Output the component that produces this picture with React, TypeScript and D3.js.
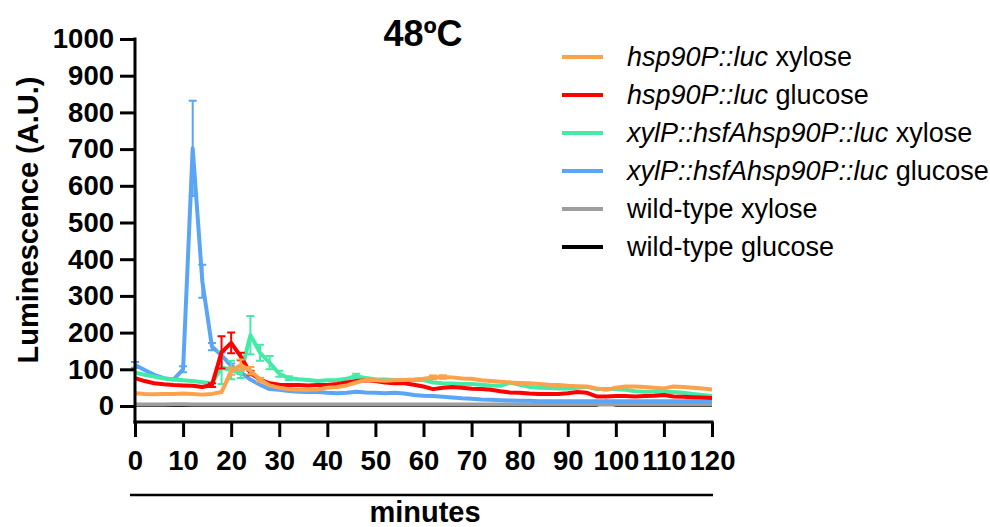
import React, { useEffect, useRef } from 'react';
import * as d3 from 'd3';

// time points (minutes), every 2 min
const minutes = [
  0, 2, 4, 6, 8, 10, 12, 14, 16, 18, 20, 22, 24, 26, 28, 30, 32, 34, 36, 38,
  40, 42, 44, 46, 48, 50, 52, 54, 56, 58, 60, 62, 64, 66, 68, 70, 72, 74, 76, 78,
  80, 82, 84, 86, 88, 90, 92, 94, 96, 98, 100, 102, 104, 106, 108, 110, 112, 114, 116, 118, 120,
];

const hspXylose = [
  35, 33, 32, 33, 33, 34, 33, 31, 33, 38, 95, 112, 96, 72, 56, 50, 46, 44, 44, 45,
  50, 52, 56, 64, 71, 70, 69, 70, 71, 72, 74, 78, 79, 78, 75, 74, 70, 68, 66, 64,
  63, 62, 60, 58, 57, 55, 54, 53, 48, 44, 50, 53, 53, 52, 50, 48, 53, 52, 50, 48, 45,
];
const hspXyloseErr = [
  3, 3, 3, 3, 3, 3, 3, 3, 3, 4, 10, 15, 10, 5, 3, 3, 3, 3, 3, 3,
  3, 3, 3, 4, 4, 3, 3, 3, 3, 3, 4, 5, 5, 4, 3, 3, 3, 3, 3, 3,
  3, 3, 3, 3, 3, 3, 3, 3, 3, 3, 3, 3, 3, 3, 3, 3, 3, 3, 3, 3, 3,
];

const hspGlucose = [
  76, 68, 62, 59, 57, 56, 55, 52, 57, 146, 172, 135, 90, 72, 62, 58, 57, 57, 56, 57,
  57, 60, 64, 68, 70, 68, 64, 62, 62, 58, 53, 46, 50, 52, 50, 47, 46, 44, 40, 37,
  36, 34, 33, 33, 33, 35, 38, 36, 26, 26, 27, 27, 26, 27, 28, 30, 26, 25, 24, 23, 22,
];
const hspGlucoseErr = [
  3, 3, 3, 3, 3, 3, 3, 3, 5, 44, 28, 10, 6, 4, 3, 3, 3, 3, 3, 3,
  3, 3, 3, 3, 3, 3, 3, 3, 3, 3, 3, 3, 3, 3, 3, 3, 3, 3, 3, 3,
  3, 3, 3, 3, 3, 3, 3, 3, 3, 3, 3, 3, 3, 3, 3, 3, 3, 3, 3, 3, 3,
];

const hsfXylose = [
  91, 85, 80, 75, 72, 70, 68, 65, 62, 105, 98, 88, 193, 145, 118, 88, 76, 73, 71, 68,
  70, 71, 74, 82, 76, 73, 72, 71, 70, 71, 71, 64, 62, 61, 60, 60, 58, 56, 55, 64,
  58, 52, 50, 49, 48, 48, 50, 52, 46, 46, 46, 44, 40, 39, 39, 39, 38, 36, 33, 30, 27,
];
const hsfXyloseErr = [
  4, 3, 3, 3, 3, 3, 3, 3, 3, 45, 25, 12, 52, 22, 18, 8, 5, 4, 3, 3,
  3, 3, 4, 6, 4, 3, 3, 3, 3, 3, 3, 3, 3, 3, 3, 3, 3, 3, 3, 4,
  3, 3, 3, 3, 3, 3, 3, 3, 3, 3, 3, 3, 3, 3, 3, 3, 3, 3, 3, 3, 3,
];

const hsfGlucose = [
  112, 98, 85, 76, 72, 100, 702, 340, 162, 138, 110, 92, 72, 58, 46, 44, 41, 39, 38, 38,
  36, 35, 36, 39, 37, 36, 35, 36, 34, 30, 28, 27, 25, 23, 21, 20, 18, 17, 16, 15,
  14, 14, 13, 13, 13, 13, 13, 13, 13, 13, 13, 13, 13, 13, 13, 13, 13, 13, 13, 13, 13,
];
const hsfGlucoseErr = [
  8, 4, 3, 3, 3, 8, 130, 45, 10, 8, 6, 5, 4, 3, 3, 3, 3, 3, 3, 3,
  3, 3, 3, 3, 3, 3, 3, 3, 3, 3, 3, 3, 3, 3, 3, 3, 3, 3, 3, 3,
  3, 3, 3, 3, 3, 3, 3, 3, 3, 3, 3, 3, 3, 3, 3, 3, 3, 3, 3, 3, 3,
];

const wtXylose = [
  4, 4, 4, 4, 5, 5, 4, 4, 4, 4, 4, 4, 4, 4, 4, 4, 4, 4, 4, 4,
  4, 4, 4, 4, 4, 4, 4, 4, 4, 4, 4, 4, 4, 4, 4, 4, 4, 4, 4, 4,
  4, 4, 4, 4, 4, 4, 4, 4, 4, 4, 4, 4, 4, 4, 4, 4, 4, 4, 4, 4, 4,
];
const wtGlucose = [
  3, 3, 3, 3, 3, 3, 3, 3, 3, 3, 3, 3, 3, 3, 3, 3, 3, 3, 3, 3,
  3, 3, 3, 3, 3, 3, 3, 3, 3, 3, 3, 3, 3, 3, 3, 3, 3, 3, 3, 3,
  3, 3, 3, 3, 3, 3, 3, 3, 3, 12, 3, 3, 3, 3, 3, 3, 3, 3, 3, 3, 3,
];

const yTicks = [0, 100, 200, 300, 400, 500, 600, 700, 800, 900, 1000];
const xTicks = [0, 10, 20, 30, 40, 50, 60, 70, 80, 90, 100, 110, 120];

const series = [
  { name: ['', 'wild-type glucose'], color: '#000000', values: wtGlucose, err: null },
  { name: ['', 'wild-type xylose'], color: '#9e9e9e', values: wtXylose, err: null },
  { name: ['xylP::hsfAhsp90P::luc', ' glucose'], color: '#5aa5f5', values: hsfGlucose, err: hsfGlucoseErr },
  { name: ['xylP::hsfAhsp90P::luc', ' xylose'], color: '#44eba7', values: hsfXylose, err: hsfXyloseErr },
  { name: ['hsp90P::luc', ' glucose'], color: '#ff0000', values: hspGlucose, err: hspGlucoseErr },
  { name: ['hsp90P::luc', ' xylose'], color: '#ffa04a', values: hspXylose, err: hspXyloseErr },
];

const App = () => {
  const svgRef = useRef<SVGSVGElement>(null);

  useEffect(() => {
    const width = 990;
    const height = 527;
    const font = '"Liberation Sans", Arial, sans-serif';

    const svg = d3.select(svgRef.current);
    svg.selectAll('*').remove();
    svg.attr('width', width).attr('height', height).style('font-family', font);

    const x = d3.scaleLinear().domain([0, 120]).range([135, 712]);
    const y = d3.scaleLinear().domain([0, 1000]).range([406, 39]);
    const axisY = 422;

    // series: error bars then lines
    const line = d3.line<number>()
      .x((_, i) => x(minutes[i]))
      .y(d => y(d));

    series.forEach(s => {
      const g = svg.append('g');
      if (s.err) {
        const err = s.err;
        s.values.forEach((v, i) => {
          const e = err[i];
          if (e < 5) return;
          const cx = x(minutes[i]);
          g.append('path')
            .attr('d', `M${cx},${y(v - e)}V${y(v + e)}M${cx - 4},${y(v + e)}H${cx + 4}M${cx - 4},${y(v - e)}H${cx + 4}`)
            .attr('stroke', s.color)
            .attr('stroke-width', 2)
            .attr('fill', 'none');
        });
      }
      g.append('path')
        .datum(s.values)
        .attr('d', line)
        .attr('fill', 'none')
        .attr('stroke', s.color)
        .attr('stroke-width', 4)
        .attr('stroke-linejoin', 'round');
    });

    // y axis
    const yAxis = svg.append('g').attr('transform', 'translate(135,0)');
    yAxis.call(d3.axisLeft(y).tickValues(yTicks).tickSize(15).tickPadding(6).tickFormat(d3.format('d')));
    yAxis.select('.domain').remove();
    yAxis.append('line').attr('x1', 0).attr('x2', 0).attr('y1', y(1000) - 1.5).attr('y2', axisY + 1.5)
      .attr('stroke', '#000').attr('stroke-width', 3);
    yAxis.selectAll('.tick line').attr('stroke-width', 3);
    yAxis.selectAll('.tick text')
      .attr('font-size', 27.5).attr('font-weight', 'bold').attr('font-family', font).attr('fill', '#000');

    // x axis
    const xAxis = svg.append('g').attr('transform', `translate(0,${axisY})`);
    xAxis.call(d3.axisBottom(x).tickValues(xTicks).tickSize(15).tickPadding(13).tickFormat(d3.format('d')));
    xAxis.select('.domain').remove();
    xAxis.append('line').attr('x1', x(0) - 1.5).attr('x2', x(120) + 1.5).attr('y1', 0).attr('y2', 0)
      .attr('stroke', '#000').attr('stroke-width', 3);
    xAxis.selectAll('.tick line').attr('stroke-width', 3);
    xAxis.selectAll('.tick text')
      .attr('font-size', 27.5).attr('font-weight', 'bold').attr('font-family', font).attr('fill', '#000');

    // x title with rule
    svg.append('line').attr('x1', 130).attr('x2', 713).attr('y1', 495).attr('y2', 495)
      .attr('stroke', '#000').attr('stroke-width', 2.5);
    svg.append('text')
      .attr('x', 425).attr('y', 522)
      .attr('text-anchor', 'middle')
      .attr('font-size', 29).attr('font-weight', 'bold')
      .text('minutes');

    // y title
    svg.append('text')
      .attr('transform', 'translate(38,220) rotate(-90)')
      .attr('text-anchor', 'middle')
      .attr('font-size', 29).attr('font-weight', 'bold')
      .text('Luminescence (A.U.)');

    // title
    svg.append('text')
      .attr('x', 423).attr('y', 46)
      .attr('text-anchor', 'middle')
      .attr('font-size', 36).attr('font-weight', 'bold')
      .text('48ºC');

    // legend (reverse of drawing order)
    const legend = svg.append('g');
    series.slice().reverse().forEach((s, i) => {
      const cy = 57 + i * 38;
      legend.append('line')
        .attr('x1', 562).attr('x2', 603).attr('y1', cy).attr('y2', cy)
        .attr('stroke', s.color).attr('stroke-width', 4);
      const t = legend.append('text')
        .attr('x', 627).attr('y', cy + 9)
        .attr('font-size', 27);
      if (s.name[0]) t.append('tspan').attr('font-style', 'italic').text(s.name[0]);
      t.append('tspan').text(s.name[1]);
    });
  }, []);

  return (
    <div style={{ position: 'absolute', left: 0, top: 0 }}>
      <svg ref={svgRef} width={990} height={527} />
    </div>
  );
};

export default App;
